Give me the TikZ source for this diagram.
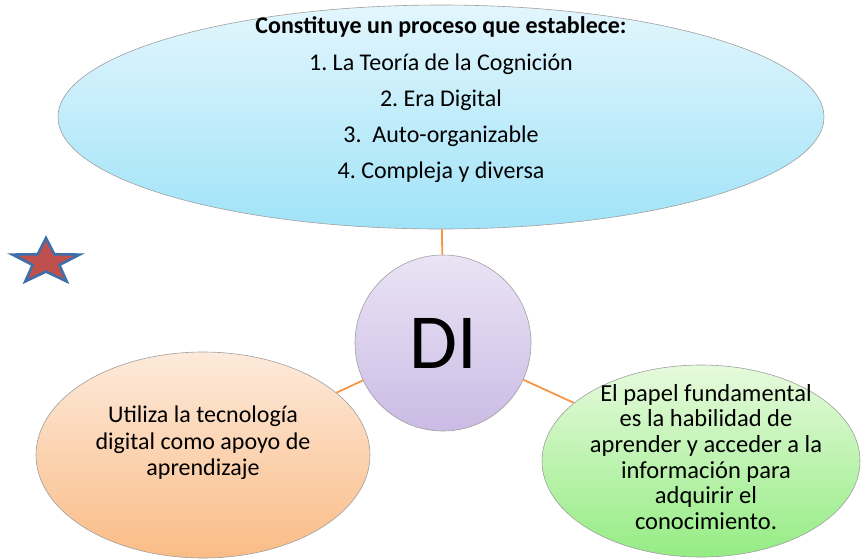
\documentclass[tikz,border=0pt]{standalone}
\usepackage{fontspec}
\setmainfont{Carlito}
\usepackage{tikz}
\usetikzlibrary{shapes,shapes.geometric,arrows,positioning,shadows}
\frenchspacing
\definecolor{celesteA}{HTML}{E3F6FD}
\definecolor{celesteB}{HTML}{A0E3F8}
\definecolor{lilaA}{HTML}{EAE4F5}
\definecolor{lilaB}{HTML}{CBBBE5}
\definecolor{durazA}{HTML}{FDEADB}
\definecolor{durazB}{HTML}{FABC86}
\definecolor{verdeA}{HTML}{E6FADC}
\definecolor{verdeB}{HTML}{95EC84}
\definecolor{naranja}{HTML}{F79646}
\definecolor{azulest}{HTML}{3F6EA8}
\definecolor{rojoest}{HTML}{C0504D}
\tikzstyle{burbuja} = [ellipse, draw=gray!75, line width=0.6pt, inner sep=0pt]
\tikzstyle{texto} = [font=\fontsize{24}{26.5}\selectfont, align=center, inner sep=0pt]
\tikzstyle{conector} = [draw=naranja, line width=1.8pt]
\tikzstyle{estrella} = [star, star points=5, star point ratio=2.5, draw=azulest, fill=rojoest, line width=2.6pt, inner sep=0pt, minimum size=48pt]

\begin{document}
\begin{tikzpicture}[x=1pt,y=-1pt]
\useasboundingbox (0,0) rectangle (861,558);
\node[burbuja, top color=celesteA, bottom color=celesteB, minimum width=766pt, minimum height=224pt,
  label={[texto, font=\fontsize{24}{36.2}\selectfont, yshift=17pt]center:{\textbf{Constituye un proceso que establece:}\\
  1. La Teoría de la Cognición\\ 2. Era Digital\\ 3.\ \ Auto-organizable\\ 4. Compleja y diversa}}] (proceso) at (441,117) {};
\node[burbuja, circle, top color=lilaA, bottom color=lilaB, minimum size=176pt,
  font=\fontsize{78}{78}\selectfont] (di) at (443,343) {DI};
\node[burbuja, top color=durazA, bottom color=durazB, minimum width=334pt, minimum height=206pt,
  label={[texto, yshift=12pt]center:{Utiliza la tecnología\\ digital como apoyo de\\ aprendizaje}}] (utiliza) at (203,455) {};
\node[burbuja, top color=verdeA, bottom color=verdeB, minimum width=318pt, minimum height=192pt,
  label={[texto, font=\fontsize{24.5}{25.7}\selectfont, xshift=5pt, yshift=4pt]center:{El papel fundamental\\ es la habilidad de\\ aprender y acceder a la\\ información para\\ adquirir el\\ conocimiento.}}] (papel) at (701,461) {};
% lineas
\draw[conector] (proceso) -- (di);
\draw[conector] (di) -- (utiliza);
\draw[conector] (di) -- (papel);
% estrella
\begin{scope}[shift={(46,262)}, xscale=1.47]
\node[estrella, transform shape] (marca) at (0,0) {};
\end{scope}
\end{tikzpicture}
\end{document}
